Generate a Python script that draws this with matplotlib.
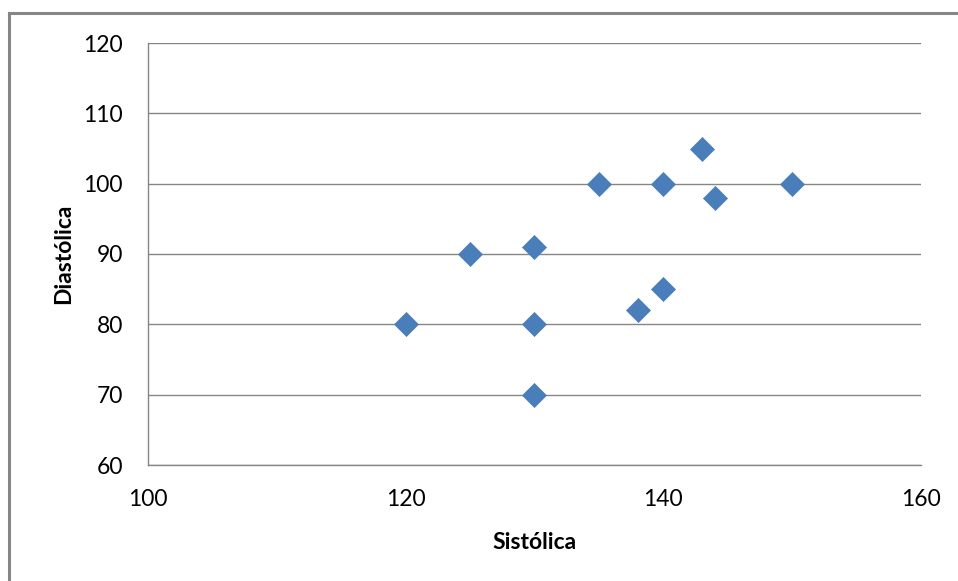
import matplotlib
matplotlib.use('Agg')
import matplotlib.pyplot as plt
from matplotlib.lines import Line2D

# blood pressure readings (systolic, diastolic)
sistolica = [120, 125, 130, 130, 130, 135, 138, 140, 140, 143, 144, 150]
diastolica = [80, 90, 91, 80, 70, 100, 82, 85, 100, 105, 98, 100]

x_ticks = [100, 120, 140, 160]
y_ticks = [60, 70, 80, 90, 100, 110, 120]

plt.rcParams['font.family'] = ['Lato', 'DejaVu Sans']
grey = '#868686'

fig = plt.figure(figsize=(9.58, 5.81), dpi=100)
ax = fig.add_axes([148/958, 1 - 465/581, (921-148)/958, (465-43)/581])

ax.scatter(sistolica, diastolica, marker='D', s=150, color='#4a7ebb',
           edgecolors='#4a7ebb', linewidths=0.5, zorder=3)

ax.set_xlim(100, 160)
ax.set_ylim(60, 120)
ax.set_xticks(x_ticks)
ax.set_yticks(y_ticks)
ax.grid(axis='y', color=grey, linewidth=1)
ax.set_axisbelow(True)
for side in ['top', 'right']:
    ax.spines[side].set_visible(False)
for side in ['left', 'bottom']:
    ax.spines[side].set_color(grey)
    ax.spines[side].set_linewidth(1)
ax.tick_params(length=0, labelsize=16.5, colors='black')
ax.tick_params(axis='y', pad=18)
ax.tick_params(axis='x', pad=17)

ax.set_xlabel('Sistólica', fontsize=16.5, fontweight='bold', labelpad=16)
ax.set_ylabel('Diastólica', fontsize=16.5, fontweight='bold', labelpad=7)

# chart frame (only top and left edges fall inside the picture)
fig.add_artist(Line2D([9/958, 9/958], [0, 1 - 13/581], transform=fig.transFigure,
                      color=grey, linewidth=2.2))
fig.add_artist(Line2D([9/958, 1], [1 - 13/581, 1 - 13/581], transform=fig.transFigure,
                      color=grey, linewidth=2.2))

fig.savefig('out.png', dpi=100)
